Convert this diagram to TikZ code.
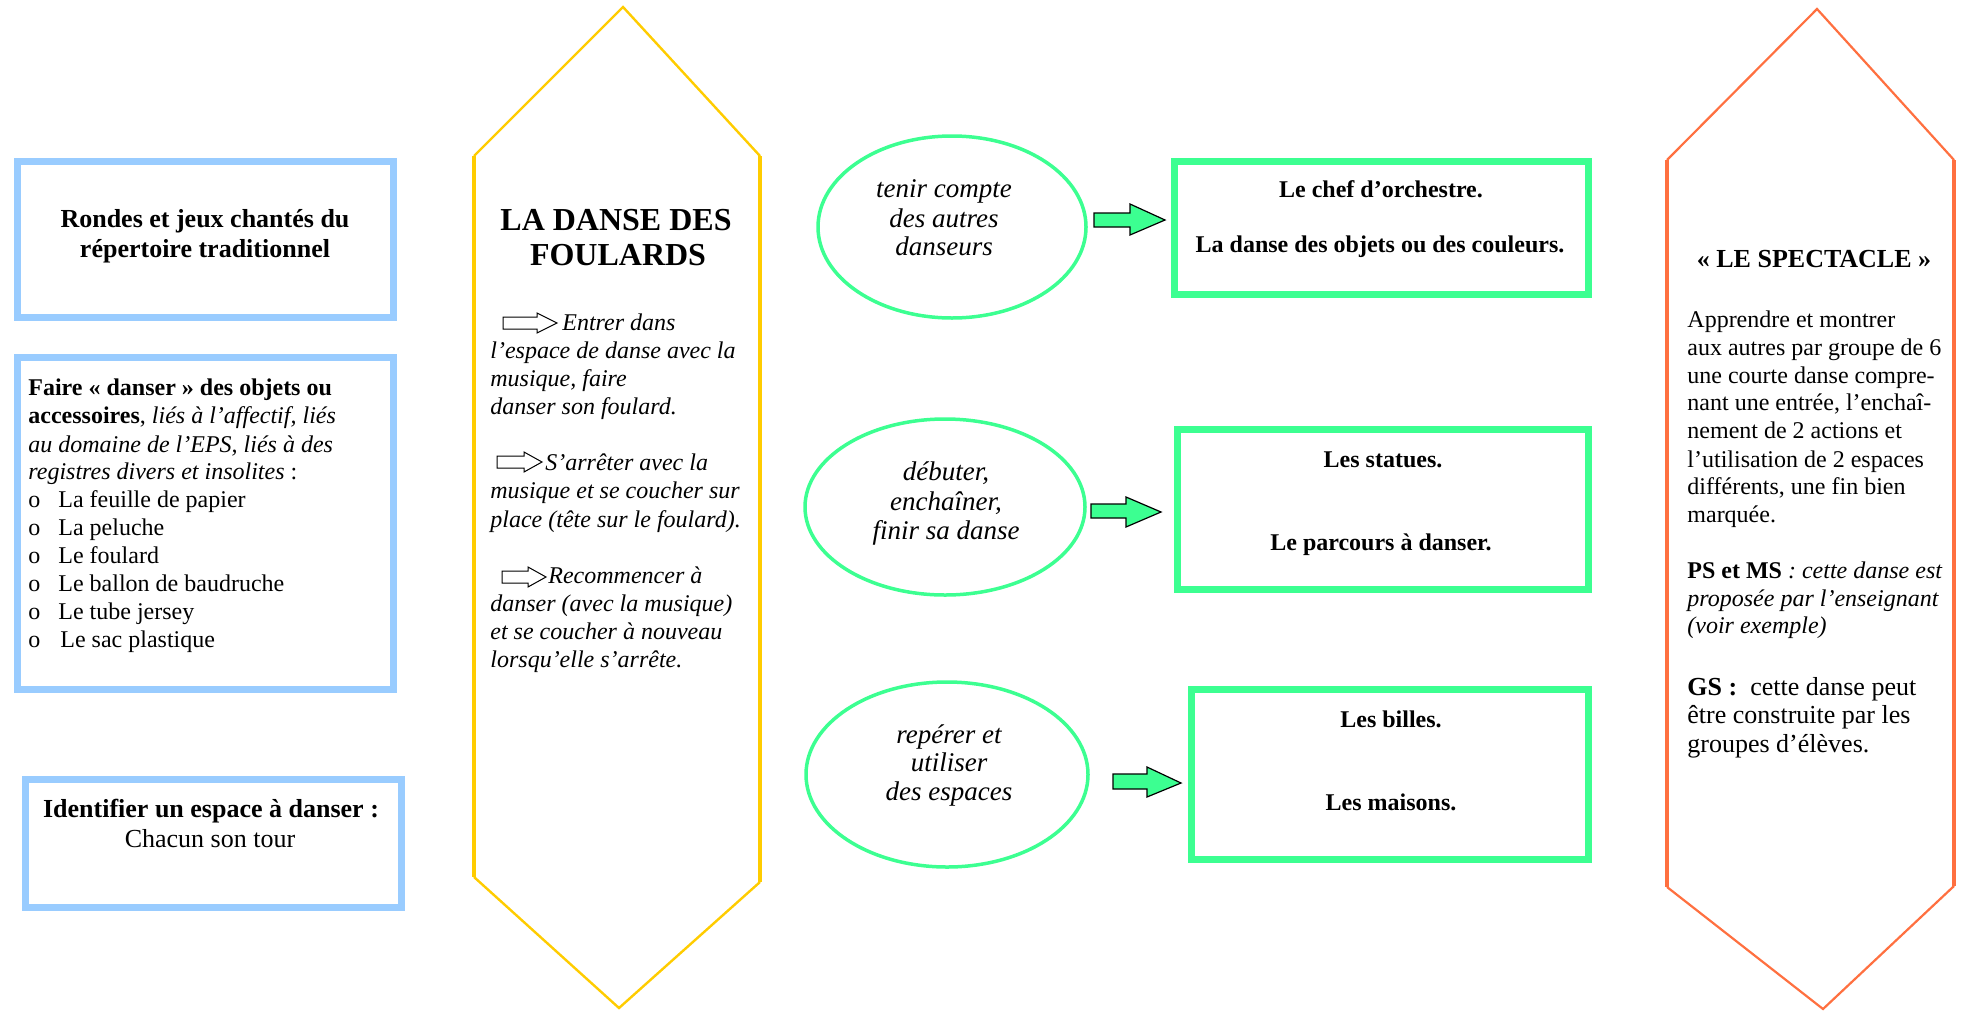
\documentclass[tikz,border=0pt]{standalone}
\usepackage{fontspec}
\setmainfont{Liberation Serif}
\usetikzlibrary{shapes.geometric}
\definecolor{lblue}{RGB}{153,204,255}
\definecolor{yel}{RGB}{255,204,0}
\definecolor{grn}{RGB}{60,255,145}
\definecolor{org}{RGB}{255,112,64}
\newcommand\szA{\fontsize{12}{14}\selectfont}
\newcommand\szB{\fontsize{13}{15}\selectfont}
\newcommand\szC{\fontsize{16}{18}\selectfont}
\newcommand\szE{\fontsize{13.5}{15}\selectfont}
\begin{document}
\begin{tikzpicture}[x=0.5pt,y=-0.5pt,
  lt/.style={anchor=base west,inner sep=0pt},
  ct/.style={anchor=base,inner sep=0pt},
  bbox/.style={draw=lblue,line width=3.5pt,rectangle,inner sep=0pt},
  gbox/.style={draw=grn,line width=3.5pt,rectangle,inner sep=0pt},
  gell/.style={draw=grn,line width=1.75pt,ellipse,inner sep=0pt},
  garrow/.style={fill=grn,draw=black,line width=0.6pt,line join=miter},
  oarr/.style={fill=white,draw=black,line width=0.5pt,line join=miter},
  ydiag/.style={draw=yel,line width=1.2pt},
  yvert/.style={draw=yel,line width=2.3pt},
  odiag/.style={draw=org,line width=1.1pt},
  overt/.style={draw=org,line width=2.2pt}]
\useasboundingbox (0,0) rectangle (1968,1012);

% ---------- left blue boxes ----------
\node[bbox,minimum width=188pt,minimum height=78pt] (b1) at (205.5,239.5) {};
\node[ct] (b1a) at (205,227) {\szB\bfseries Rondes et jeux chantés du};
\node[ct] (b1b) at (205,257) {\szB\bfseries répertoire traditionnel};

\node[bbox,minimum width=188pt,minimum height=166pt] (b2) at (205.5,523.5) {};
\node[lt] (b2a) at (28,395) {\szA\bfseries Faire « danser » des objets ou};
\node[lt] (b2b) at (28,423) {\szA\textbf{accessoires}, \textit{liés à l’affectif, liés}};
\node[lt] (b2c) at (28,452) {\szA\itshape au domaine de l’EPS, liés à des};
\node[lt] (b2d) at (28,479) {\szA\textit{registres divers et insolites} :};
\foreach \t/\yy [count=\i] in {La feuille de papier/507,La peluche/535,Le foulard/563,Le ballon de baudruche/591,Le tube jersey/619}{
  \node[lt] (bo\i) at (28,\yy) {\szA o};
  \node[lt] (bt\i) at (58,\yy) {\szA \t};
}
\node[lt] (bo6) at (28,647) {\szA o};
\node[lt] (bt6) at (60,647) {\szA Le sac plastique};

\node[bbox,minimum width=188pt,minimum height=64pt] (b3) at (213.5,843.5) {};
\node[ct] (b3a) at (211,817) {\szB\bfseries Identifier un espace à danser :};
\node[ct] (b3b) at (210,847) {\szB Chacun son tour};

% ---------- yellow hexagon ----------
\coordinate (yT) at (623,7);
\coordinate (yL1) at (474,156);
\coordinate (yL2) at (474,877);
\coordinate (yB) at (619,1008);
\coordinate (yR2) at (760,882);
\coordinate (yR1) at (760,156);
\draw[ydiag] (yL1) -- (yT) -- (yR1);
\draw[ydiag] (yL2) -- (yB) -- (yR2);
\draw[yvert] (yL1) -- (yL2);
\draw[yvert] (yR1) -- (yR2);

\node[ct] (yt1) at (616,230) {\szC\bfseries LA DANSE DES};
\node[ct] (yt2) at (618,265) {\szC\bfseries FOULARDS};

\draw[oarr,shift={(503,323)}] (0,-6) -- (34,-6) -- (34,-10) -- (54,0) -- (34,10) -- (34,6) -- (0,6) -- cycle;
\node[lt] (y1a) at (562,330) {\szA\itshape Entrer dans};
\node[lt] (y1b) at (490,358) {\szA\itshape l’espace de danse avec la};
\node[lt] (y1c) at (490,386) {\szA\itshape musique, faire};
\node[lt] (y1d) at (490,414) {\szA\itshape danser son foulard.};

\draw[oarr,shift={(497,462)}] (0,-6) -- (27,-6) -- (27,-10) -- (45,0) -- (27,10) -- (27,6) -- (0,6) -- cycle;
\node[lt] (y2a) at (545,470) {\szA\itshape S’arrêter avec la};
\node[lt] (y2b) at (490,498) {\szA\itshape musique et se coucher sur};
\node[lt] (y2c) at (490,527) {\szA\itshape place (tête sur le foulard).};

\draw[oarr,shift={(502,577)}] (0,-6) -- (26,-6) -- (26,-10) -- (44,0) -- (26,10) -- (26,6) -- (0,6) -- cycle;
\node[lt] (y3a) at (548,583) {\szA\itshape Recommencer à};
\node[lt] (y3b) at (490,611) {\szA\itshape danser (avec la musique)};
\node[lt] (y3c) at (490,639) {\szA\itshape et se coucher à nouveau};
\node[lt] (y3d) at (490,667) {\szA\itshape lorsqu’elle s’arrête.};

% ---------- green ellipses ----------
\node[gell,minimum width=134pt,minimum height=91pt] (e1) at (952,227) {};
\node[ct] (e1a) at (944,197) {\szE\itshape tenir compte};
\node[ct] (e1b) at (944,227) {\szE\itshape des autres};
\node[ct] (e1c) at (944,255) {\szE\itshape danseurs};

\node[gell,minimum width=140pt,minimum height=88pt] (e2) at (945,507) {};
\node[ct] (e2a) at (946,480) {\szE\itshape débuter,};
\node[ct] (e2b) at (946,510) {\szE\itshape enchaîner,};
\node[ct] (e2c) at (946,539) {\szE\itshape finir sa danse};

\node[gell,minimum width=141pt,minimum height=92.5pt] (e3) at (947,774.5) {};
\node[ct] (e3a) at (949,743) {\szE\itshape repérer et};
\node[ct] (e3b) at (949,771) {\szE\itshape utiliser};
\node[ct] (e3c) at (949,800) {\szE\itshape des espaces};

% ---------- green block arrows ----------
\draw[garrow] (1094,213) -- (1130,213) -- (1130,204) -- (1165,220) -- (1130,235) -- (1130,227) -- (1094,227) -- cycle;
\draw[garrow] (1091,504) -- (1126,504) -- (1126,497) -- (1161,512) -- (1126,527) -- (1126,518) -- (1091,518) -- cycle;
\draw[garrow] (1113,774) -- (1147,774) -- (1147,767) -- (1181,783) -- (1147,797) -- (1147,789) -- (1113,789) -- cycle;

% ---------- green boxes ----------
\node[gbox,minimum width=207pt,minimum height=66.5pt] (g1) at (1381.5,228) {};
\node[ct] (g1a) at (1381,197) {\szA\bfseries Le chef d’orchestre.};
\node[ct] (g1b) at (1380,252) {\szA\bfseries La danse des objets ou des couleurs.};

\node[gbox,minimum width=205.5pt,minimum height=80pt] (g2) at (1383,509.5) {};
\node[ct] (g2a) at (1383,467) {\szA\bfseries Les statues.};
\node[ct] (g2b) at (1381,550) {\szA\bfseries Le parcours à danser.};

\node[gbox,minimum width=198.5pt,minimum height=85pt] (g3) at (1390,774.5) {};
\node[ct] (g3a) at (1391,727) {\szA\bfseries Les billes.};
\node[ct] (g3b) at (1391,810) {\szA\bfseries Les maisons.};

% ---------- orange hexagon ----------
\coordinate (oT) at (1817,9);
\coordinate (oL1) at (1667,160);
\coordinate (oL2) at (1667,887);
\coordinate (oB) at (1823,1009);
\coordinate (oR2) at (1954,886);
\coordinate (oR1) at (1954,160);
\draw[odiag] (oL1) -- (oT) -- (oR1);
\draw[odiag] (oL2) -- (oB) -- (oR2);
\draw[overt] (oL1) -- (oL2);
\draw[overt] (oR1) -- (oR2);

\node[ct] (ot) at (1814,267) {\szB\bfseries « LE SPECTACLE »};
\foreach \t/\yy [count=\i] in {Apprendre et montrer/327,aux autres par groupe de 6/355,une courte danse compre-/383,{nant une entrée, l’enchaî-}/410,nement de 2 actions et/438,l’utilisation de 2 espaces/467,{différents, une fin bien}/494,marquée./522}{
  \node[lt] (ob\i) at (1687,\yy) {\szA \t};
}
\node[lt] (op1) at (1687,578) {\szA\textbf{PS et MS}\textit{ : cette danse est}};
\node[lt] (op2) at (1687,606) {\szA\itshape proposée par l’enseignant};
\node[lt] (op3) at (1687,633) {\szA\itshape (voir exemple)};
\node[lt] (og1) at (1687,695) {\szB\textbf{GS :}\ \ cette danse peut};
\node[lt] (og2) at (1687,723) {\szB être construite par les};
\node[lt] (og3) at (1687,752) {\szB groupes d’élèves.};
\end{tikzpicture}
\end{document}
